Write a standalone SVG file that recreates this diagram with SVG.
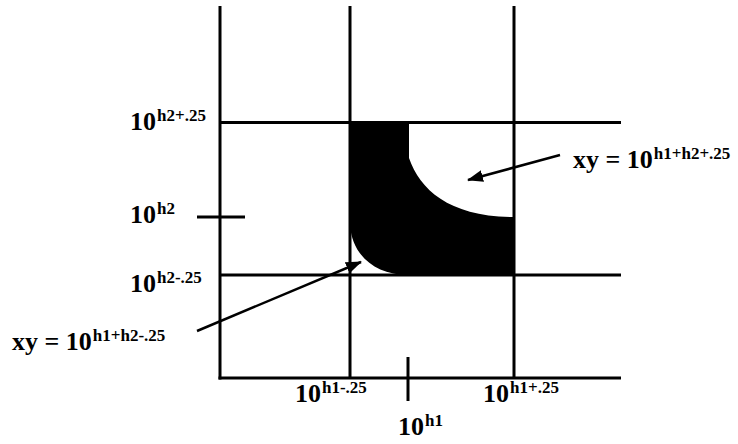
<svg xmlns="http://www.w3.org/2000/svg" width="738" height="444" viewBox="0 0 738 444">
<style>
.ln{stroke:#000;stroke-width:3;fill:none}
.ar{stroke:#000;stroke-width:2.5;fill:none}
.t{font-family:"Liberation Serif","Times New Roman",serif;font-weight:bold;font-size:26px;fill:#000}
.s{font-size:17px}
</style>
<defs>
<marker id="ah" viewBox="0 0 16 12" markerWidth="16" markerHeight="12" refX="15" refY="6" orient="auto" markerUnits="userSpaceOnUse">
<path d="M0,0 L16,6 L0,12 z" fill="#000"/>
</marker>
</defs>
<rect width="738" height="444" fill="#fff"/>
<g id="region">
<path d="M350,122 H409 V158 C420,190 450,217 514,217 V275 H408 C375,275 352,255 350,225 Z" fill="#000"/>
</g>
<g id="grid">
<line class="ln" x1="220" y1="6" x2="220" y2="379.5"/>
<line class="ln" x1="350" y1="6" x2="350" y2="378"/>
<line class="ln" x1="514" y1="6" x2="514" y2="378"/>
<line class="ln" x1="218.5" y1="378" x2="621" y2="378"/>
<line class="ln" x1="220" y1="122.5" x2="621" y2="122.5"/>
<line class="ln" x1="220" y1="275" x2="621" y2="275"/>
<line class="ln" x1="197" y1="217" x2="245" y2="217"/>
<line class="ln" x1="408" y1="357" x2="408" y2="401"/>
</g>
<g id="connectors">
<line class="ar" x1="560" y1="155" x2="468" y2="180" marker-end="url(#ah)"/>
<line class="ar" x1="197" y1="331" x2="361" y2="262" marker-end="url(#ah)"/>
</g>
<g id="labels">
<text class="t" x="130" y="130">10<tspan class="s" dx="1" dy="-9">h2+.25</tspan></text>
<text class="t" x="130" y="223">10<tspan class="s" dx="1" dy="-9">h2</tspan></text>
<text class="t" x="130" y="292">10<tspan class="s" dx="1" dy="-9">h2-.25</tspan></text>
<text class="t" x="12" y="350">xy = 10<tspan class="s" dx="1" dy="-9">h1+h2-.25</tspan></text>
<text class="t" x="295" y="402">10<tspan class="s" dx="1" dy="-9">h1-.25</tspan></text>
<text class="t" x="398" y="435">10<tspan class="s" dx="1" dy="-9">h1</tspan></text>
<text class="t" x="483" y="402">10<tspan class="s" dx="1" dy="-9">h1+.25</tspan></text>
<text class="t" x="573" y="168">xy = 10<tspan class="s" dx="1" dy="-9">h1+h2+.25</tspan></text>
</g>
</svg>
